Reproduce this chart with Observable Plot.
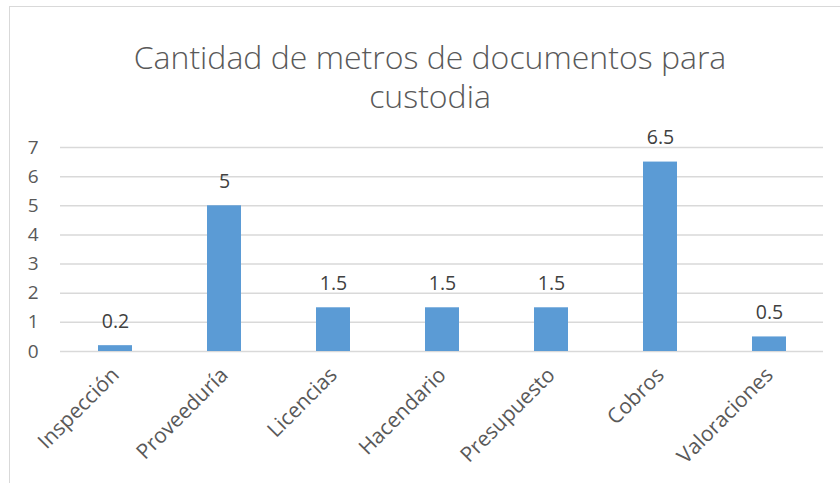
<!DOCTYPE html>
<html><head><meta charset="utf-8">
<script src="https://cdn.jsdelivr.net/npm/d3@7"></script>
<script src="https://cdn.jsdelivr.net/npm/@observablehq/plot@0.6"></script>
<style>
html,body{margin:0;padding:0;background:#fff;}
#wrap{position:relative;width:840px;height:483px;overflow:hidden;background:#fff;font-family:"Open Sans",sans-serif;}
#frame{position:absolute;left:9px;top:6px;width:900px;height:600px;border:1.5px solid #d9d9d9;box-sizing:border-box;}
#title{position:absolute;left:30px;width:800px;top:37px;text-align:center;font-size:32px;line-height:39px;color:#595959;font-weight:300;}
#chart{position:absolute;left:0;top:120px;}
</style></head>
<body><div id="wrap"><div id="frame"></div>
<div id="title">Cantidad de metros de documentos para<br>custodia</div>
<div id="chart"></div></div>
<script>
const categories = ["Inspección","Proveeduría","Licencias","Hacendario","Presupuesto","Cobros","Valoraciones"];
const values = [0.2, 5, 1.5, 1.5, 1.5, 6.5, 0.5];
const yTicks = [0,1,2,3,4,5,6,7];
const data = categories.map((c,i)=>({cat:c, v:values[i], label:String(values[i])}));
const plot = Plot.plot({
  width: 840, height: 363,
  marginLeft: 60, marginRight: 17, marginTop: 27, marginBottom: 132,
  style: {fontFamily: '"Open Sans", sans-serif', fontSize: "18px", color: "#595959", background: "transparent"},
  x: {domain: categories, paddingInner: 0.69, paddingOuter: 0.345, label: null},
  y: {domain: [0,7], label: null},
  marks: [
    Plot.ruleY(yTicks, {stroke: "#d9d9d9", strokeWidth: 1.5, strokeOpacity: 1}),
    Plot.barY(data, {x: "cat", y: "v", fill: "#5B9BD5"}),
    Plot.text(data, {x: "cat", y: "v", text: "label", dy: -24, fill: "#404040", fontSize: 19.5}),
    Plot.axisY({ticks: yTicks, tickFormat: d3.format("d"), tickSize: 0, tickPadding: 22, fontSize: 19, fill: "#595959", label: null}),
    Plot.axisX({tickSize: 0, tickRotate: -45, tickPadding: 20, fontSize: 21, fill: "#595959", label: null})
  ]
});
document.getElementById("chart").appendChild(plot);
</script></body></html>
